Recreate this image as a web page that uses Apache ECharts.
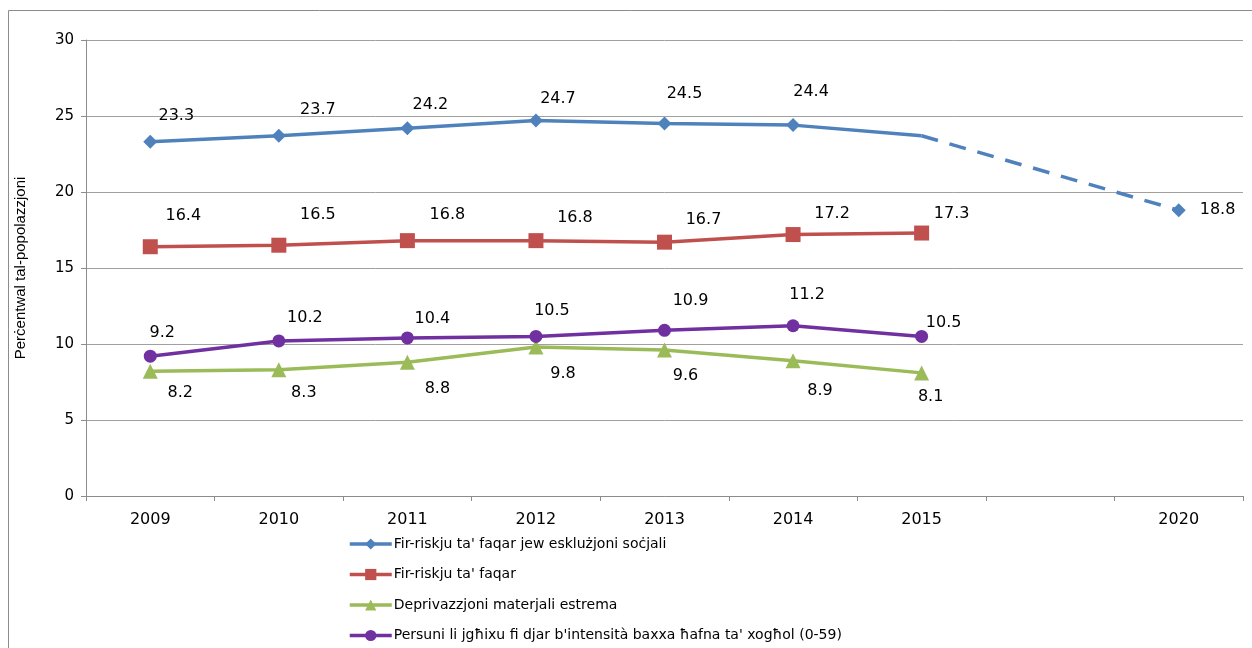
<!DOCTYPE html>
<html>
<head>
<meta charset="utf-8">
<script src="https://cdn.jsdelivr.net/npm/echarts@6/dist/echarts.min.js"></script>
<style>
  html, body { margin: 0; padding: 0; background: #fff; }
  #main { width: 1252px; height: 648px; }
</style>
</head>
<body>
<div id="main"></div>
<script>
// dati
var years = ['2009', '2010', '2011', '2012', '2013', '2014', '2015', '', '2020'];
var riskPovertyExclusion = [23.3, 23.7, 24.2, 24.7, 24.5, 24.4, 23.7, null, null];
var target2020 = [null, null, null, null, null, null, 23.7, null, 18.8];
var riskPoverty = [16.4, 16.5, 16.8, 16.8, 16.7, 17.2, 17.3, null, null];
var materialDeprivation = [8.2, 8.3, 8.8, 9.8, 9.6, 8.9, 8.1, null, null];
var lowWorkIntensity = [9.2, 10.2, 10.4, 10.5, 10.9, 11.2, 10.5, null, null];

var names = [
  "Fir-riskju ta' faqar jew esklużjoni soċjali",
  "Fir-riskju ta' faqar",
  "Deprivazzjoni materjali estrema",
  "Persuni li jgħixu fi djar b'intensità baxxa ħafna ta' xogħol (0-59)"
];

// fejn jinkitbu t-tikketti (pixel minn fuq il-punt)
var blueShift = [[26, -26], [39, -26], [23, -23], [22, -22], [20, -30], [18, -33], [0, -34]];
var redShift = [[33, -31], [39, -30], [40, -26], [39, -23], [39, -22], [39, -21], [30, -19]];
var greenShift = [[30, 21], [25, 23], [30, 27], [27, 27], [21, 26], [27, 30], [9, 24]];
var purpleShift = [[12, -23], [26, -23], [25, -19], [16, -26], [26, -29], [14, -31], [22, -14]];

function withLabels(values, shift, noMarkerAt) {
  return values.map(function (v, i) {
    if (v == null) return null;
    var item = { value: v, label: { offset: shift[i] } };
    if (i === noMarkerAt) item.symbol = 'none';
    return item;
  });
}

var labelStyle = {
  show: true,
  position: 'inside',
  color: '#000',
  fontFamily: 'DejaVu Sans',
  fontSize: 16
};

var myChart = echarts.init(document.getElementById('main'));
myChart.setOption({
  animation: false,
  backgroundColor: '#fff',
  graphic: [{
    type: 'rect',
    shape: { x: 8.5, y: 10.5, width: 1300, height: 700 },
    style: { fill: 'none', stroke: '#8c8c8c', lineWidth: 1 },
    silent: true
  }],
  grid: {
    left: 86,
    right: 9,
    top: 40,
    bottom: 152
  },
  legend: {
    data: names,
    orient: 'vertical',
    left: 343,
    top: 532,
    itemWidth: 42,
    itemHeight: 14,
    itemGap: 16.5,
    lineStyle: { width: 3.5 },
    textStyle: {
      fontFamily: 'DejaVu Sans',
      fontSize: 14,
      color: '#000',
      padding: [0, 0, 0, -3]
    }
  },
  xAxis: {
    type: 'category',
    data: years,
    boundaryGap: true,
    axisLine: { lineStyle: { color: '#8c8c8c', width: 1 } },
    axisTick: { show: true, length: 5, lineStyle: { color: '#8c8c8c' } },
    axisLabel: {
      interval: 0,
      color: '#000',
      fontFamily: 'DejaVu Sans',
      fontSize: 16,
      margin: 16
    },
    splitLine: { show: false }
  },
  yAxis: {
    type: 'value',
    min: 0,
    max: 30,
    interval: 5,
    name: 'Perċentwal tal-popolazzjoni',
    nameLocation: 'middle',
    nameRotate: 90,
    nameGap: 58,
    nameTextStyle: {
      color: '#000',
      fontFamily: 'Liberation Sans',
      fontSize: 15
    },
    axisLine: { show: true, lineStyle: { color: '#8c8c8c', width: 1 } },
    axisTick: { show: true, length: 5, lineStyle: { color: '#8c8c8c' } },
    axisLabel: {
      color: '#000',
      fontFamily: 'DejaVu Sans',
      fontSize: 15,
      margin: 12
    },
    splitLine: { lineStyle: { color: '#a0a0a0', width: 1 } }
  },
  series: [{
      name: names[0],
      type: 'line',
      data: withLabels(riskPovertyExclusion, blueShift, 6),
      symbol: 'diamond',
      symbolSize: 14,
      itemStyle: { color: '#4F81BD' },
      lineStyle: { color: '#4F81BD', width: 3.5 },
      label: labelStyle,
      z: 5
    },
    {
      name: 'target',
      type: 'line',
      data: target2020.map(function (v, i) {
        if (v == null) return null;
        if (i === 6) return { value: v, symbol: 'none', label: { show: false } };
        return { value: v, label: { show: true, position: 'right', distance: 14 } };
      }),
      connectNulls: true,
      symbol: 'diamond',
      symbolSize: 14,
      itemStyle: { color: '#4F81BD' },
      lineStyle: { color: '#4F81BD', width: 3.5, type: [17, 12] },
      label: {
        color: '#000',
        fontFamily: 'DejaVu Sans',
        fontSize: 16
      },
      z: 4
    },
    {
      name: names[1],
      type: 'line',
      data: withLabels(riskPoverty, redShift),
      symbol: 'rect',
      symbolSize: 15,
      itemStyle: { color: '#C0504D' },
      lineStyle: { color: '#C0504D', width: 3.5 },
      label: labelStyle
    },
    {
      name: names[2],
      type: 'line',
      data: withLabels(materialDeprivation, greenShift),
      symbol: 'triangle',
      symbolSize: 15,
      itemStyle: { color: '#9BBB59' },
      lineStyle: { color: '#9BBB59', width: 3.5 },
      label: labelStyle
    },
    {
      name: names[3],
      type: 'line',
      data: withLabels(lowWorkIntensity, purpleShift),
      symbol: 'circle',
      symbolSize: 13,
      itemStyle: { color: '#7030A0' },
      lineStyle: { color: '#7030A0', width: 3.5 },
      label: labelStyle
    }
  ]
});
</script>
</body>
</html>
